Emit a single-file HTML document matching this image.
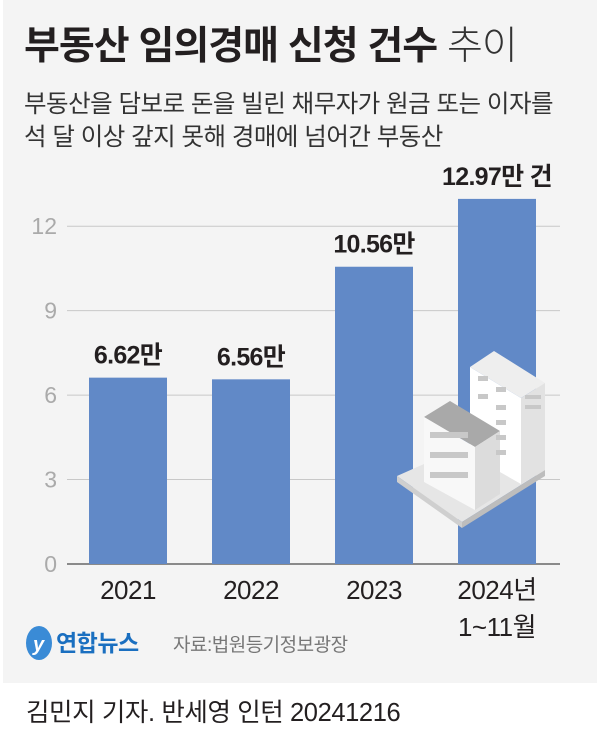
<!DOCTYPE html>
<html><head><meta charset="utf-8"><style>
body{margin:0;width:600px;height:741px;background:#fff;font-family:"Liberation Sans","Noto Sans CJK KR",sans-serif;overflow:hidden}
</style></head><body>
<svg width="600" height="741" xmlns="http://www.w3.org/2000/svg" font-family="Liberation Sans, Noto Sans CJK KR, sans-serif">
<rect x="3" y="0" width="594" height="683" fill="#f4f4f4"/>
<text x="24" y="59" font-size="39" font-weight="bold" fill="#231f20" letter-spacing="-1">부동산 임의경매 신청 건수 <tspan font-weight="300" fill="#333">추이</tspan></text>
<text x="24" y="112" font-size="24.5" fill="#333" letter-spacing="-0.5">부동산을 담보로 돈을 빌린 채무자가 원금 또는 이자를</text>
<text x="24" y="145" font-size="24.5" fill="#333" letter-spacing="-0.5">석 달 이상 갚지 못해 경매에 넘어간 부동산</text>
<g id="grid"></g>
<g id="bars"></g>
<g id="illus">
<polygon points="397,476 478,440 545,470 462,522" fill="#e6e6e6"/>
<polygon points="397,476 462,522 462,528 397,482" fill="#cfcfcf"/>
<polygon points="462,522 545,470 545,476 462,528" fill="#bdbdbd"/>
<polygon points="470,367 494,351 545,383 521,398" fill="#eeeeee"/>
<polygon points="470,367 521,398 521,484 470,455" fill="#ffffff"/>
<polygon points="521,398 545,383 545,470 521,484" fill="#e2e2e2"/>
<polygon points="424,417 450,401 500,431 475,447" fill="#a9a9a9"/>
<polygon points="424,417 475,447 475,510 424,482" fill="#f8f8f8"/>
<polygon points="475,447 500,431 500,494 475,510" fill="#dcdcdc"/>
<g fill="#c8c8c8">
<rect x="478" y="376" width="10" height="5"/><rect x="496" y="387" width="10" height="5"/>
<rect x="478" y="394" width="10" height="5"/><rect x="496" y="405" width="10" height="5"/>
<rect x="496" y="420" width="10" height="5"/><rect x="496" y="435" width="10" height="5"/><rect x="496" y="450" width="10" height="5"/>
<rect x="430" y="432" width="38" height="6"/><rect x="430" y="452" width="38" height="6"/><rect x="430" y="472" width="38" height="6"/>
<rect x="525" y="395" width="16" height="4"/><rect x="525" y="405" width="16" height="4"/>
</g>
</g>
<ellipse cx="39" cy="643" rx="13" ry="17" fill="#3a8bd6"/>
<text x="33" y="651" font-size="20" font-style="italic" font-weight="bold" fill="#fff">y</text>
<text x="56" y="651" font-size="23" font-weight="bold" fill="#1a6fc0" letter-spacing="-0.5">연합뉴스</text>
<text x="173" y="651" font-size="19" fill="#777" letter-spacing="-0.5">자료:법원등기정보광장</text>
<text x="26" y="721" font-size="25.5" fill="#231f20" letter-spacing="-0.4">김민지 기자. 반세영 인턴 20241216</text>
<script>
const categories=["2021","2022","2023","2024년"];
const values=[6.62,6.56,10.56,12.97];
const valueLabels=["6.62만","6.56만","10.56만","12.97만 건"];
const ticks=[0,3,6,9,12];
const y0=564,unit=28.15,xs=[89,212,335,458],bw=78;
const y=v=>y0-v*unit;
const NS="http://www.w3.org/2000/svg";
const g=document.getElementById('grid'),b=document.getElementById('bars');
function mk(tag,at,par){const e=document.createElementNS(NS,tag);for(const k in at)e.setAttribute(k,at[k]);par.appendChild(e);return e;}
ticks.forEach(t=>{
 const l=mk('line',{x1:67,x2:560,y1:y(t),y2:y(t),stroke:t===0?'#666':'#c8c8c8','stroke-width':t===0?1.5:1},g);
 
 
 const tx=mk('text',{x:57,y:y(t)+8,'font-size':23,fill:'#aaa','text-anchor':'end'},g);
 tx.textContent=t;
 
 
});
values.forEach((v,i)=>{
 const r=mk('rect',{x:xs[i],y:y(v),width:bw,height:y0-y(v),fill:'#6189c7'},b);
 
 
 const lb=mk('text',{x:xs[i]+bw/2,y:y(v)-14,'font-size':25,'font-weight':'bold',fill:'#231f20','text-anchor':'middle','letter-spacing':'-0.7'},b);
 lb.textContent=valueLabels[i];
 
 
 const c=mk('text',{x:xs[i]+bw/2,y:y0+35,'font-size':26,fill:'#231f20','text-anchor':'middle','letter-spacing':'-0.5'},b);
 c.textContent=categories[i];
 
 
});
const s=mk('text',{x:xs[3]+bw/2,y:y0+72,'font-size':26,fill:'#231f20','text-anchor':'middle','letter-spacing':'-0.5'},b);
s.textContent='1~11월';


const il=document.getElementById('illus');il.parentNode.insertBefore(il,b.nextSibling);
</script>
</svg>
</body></html>
